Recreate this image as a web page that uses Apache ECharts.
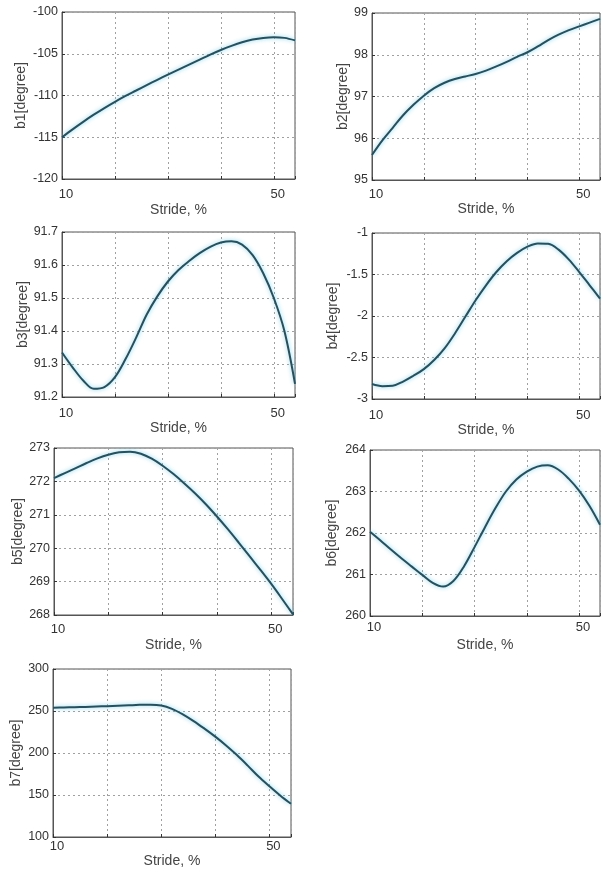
<!DOCTYPE html>
<html>
<head>
<meta charset="utf-8">
<script src="https://cdn.jsdelivr.net/npm/echarts@6/dist/echarts.min.js"></script>
<style>
  html, body { margin: 0; padding: 0; background: #fff; }
  #main { width: 603px; height: 875px; }
</style>
</head>
<body>
<div id="main"></div>
<script>
// Stride, % (shared x values)
const stride = [10, 12, 14, 16, 18, 20, 22, 24, 26, 28, 30, 32, 34, 36, 38, 40, 42, 44, 46, 48, 50, 52, 54]

const b1 = [-115, -114.05, -113.15, -112.3, -111.5, -110.75, -110.05, -109.4, -108.75, -108.12, -107.5, -106.9, -106.3, -105.7, -105.1, -104.55, -104.05, -103.62, -103.3, -103.1, -103.02, -103.1, -103.4]
const b2 = [95.6, 95.95, 96.25, 96.55, 96.8, 97.02, 97.2, 97.33, 97.42, 97.48, 97.54, 97.62, 97.72, 97.83, 97.95, 98.06, 98.2, 98.35, 98.48, 98.59, 98.68, 98.77, 98.86]
const b3 = [91.335, 91.29, 91.25, 91.225, 91.23, 91.26, 91.315, 91.38, 91.45, 91.505, 91.55, 91.585, 91.612, 91.636, 91.655, 91.668, 91.672, 91.662, 91.63, 91.575, 91.5, 91.4, 91.24]
const b4 = [-2.82, -2.845, -2.84, -2.79, -2.72, -2.64, -2.53, -2.39, -2.21, -2.01, -1.81, -1.63, -1.47, -1.34, -1.24, -1.165, -1.125, -1.13, -1.2, -1.32, -1.47, -1.63, -1.79]
const b5 = [272.1, 272.25, 272.4, 272.55, 272.69, 272.8, 272.87, 272.89, 272.83, 272.68, 272.47, 272.22, 271.94, 271.64, 271.31, 270.95, 270.57, 270.17, 269.76, 269.35, 268.93, 268.48, 268.02]
const b6 = [262.03, 261.82, 261.6, 261.39, 261.19, 260.99, 260.8, 260.71, 260.85, 261.2, 261.66, 262.14, 262.6, 263.0, 263.29, 263.48, 263.6, 263.63, 263.53, 263.31, 263.02, 262.65, 262.2]
const b7 = [254, 254.2, 254.5, 254.8, 255.3, 255.8, 256.3, 256.8, 257.3, 257.5, 256.6, 252.6, 246, 238, 229, 219.5, 209, 197.5, 185, 172, 160.5, 149.5, 139.5]

const names = ['b1[degree]', 'b2[degree]', 'b3[degree]', 'b4[degree]', 'b5[degree]', 'b6[degree]', 'b7[degree]']
const values = [b1, b2, b3, b4, b5, b6, b7]
const yMin = [-120, 95, 91.2, -3, 268, 260, 100]
const yMax = [-100, 99, 91.7, -1, 273, 264, 300]
const yStep = [5, 1, 0.1, 0.5, 1, 1, 50]
const xTicks = ['10', '50']

// plot boxes [left, top, width, height]
const boxes = [
  [62, 12, 233, 167],
  [372, 13, 233, 167],
  [62, 232, 233, 165],
  [372, 233, 233, 166],
  [54, 448, 239, 167],
  [370, 450, 235, 166],
  [53, 669, 238, 168]
]
const yNameGap = [34, 22, 32, 32, 27, 31, 30]
const xLabelMargin = [9, 8, 10, 10, 8, 5, 3]
const xNameGap = [24, 21, 22, 22, 23, 22, 12]

const font = 'Liberation Sans, Arial, sans-serif'
const splitStyle = { show: true, lineStyle: { color: '#a0a0a0', type: [2, 3], width: 1 } }

var myChart = echarts.init(document.getElementById('main'))

var grid = [], xAxis = [], yAxis = [], series = []
boxes.forEach((b, i) => {
  grid.push({
    left: b[0], top: b[1], width: b[2], height: b[3],
    show: true, borderColor: '#555', borderWidth: 1, backgroundColor: '#fff'
  })
  xAxis.push({
    type: 'value', gridIndex: i, min: 10, max: 54, interval: 10,
    name: 'Stride, %', nameLocation: 'middle', nameGap: xNameGap[i],
    nameTextStyle: { color: '#444', fontSize: 14, fontFamily: font, verticalAlign: 'top' },
    axisLine: { show: true, lineStyle: { color: '#555' } },
    axisTick: { show: true, inside: true, length: 3, lineStyle: { color: '#333' } },
    axisLabel: {
      color: '#333', fontSize: 13, fontFamily: font, margin: xLabelMargin[i],
      padding: [0, 0, 0, 8],
      formatter: v => (xTicks.indexOf(String(v)) >= 0 ? String(v) : '')
    },
    splitLine: splitStyle
  })
  yAxis.push({
    type: 'value', gridIndex: i, min: yMin[i], max: yMax[i], interval: yStep[i],
    name: names[i], nameLocation: 'middle', nameGap: yNameGap[i],
    nameTextStyle: { color: '#444', fontSize: 14, fontFamily: font },
    axisLine: { show: true, lineStyle: { color: '#555' } },
    axisTick: { show: true, inside: true, length: 3, lineStyle: { color: '#333' } },
    axisLabel: {
      color: '#333', fontSize: 12.5, fontFamily: font, margin: 4,
      formatter: v => String(Math.round(v * 10) / 10)
    },
    splitLine: splitStyle
  })
  series.push({
    type: 'line', xAxisIndex: i, yAxisIndex: i,
    data: stride.map((x, k) => [x, values[i][k]]),
    smooth: 0.35, showSymbol: false, symbol: 'none', clip: true,
    lineStyle: { color: '#284f5b', width: 2, shadowColor: 'rgba(110,205,235,0.9)', shadowBlur: 4 }
  })
})

var option = {
  animation: false,
  backgroundColor: '#fff',
  grid: grid,
  xAxis: xAxis,
  yAxis: yAxis,
  series: series
}

myChart.setOption(option)
window.addEventListener('resize', () => {
  myChart.resize()
})
</script>
</body>
</html>
